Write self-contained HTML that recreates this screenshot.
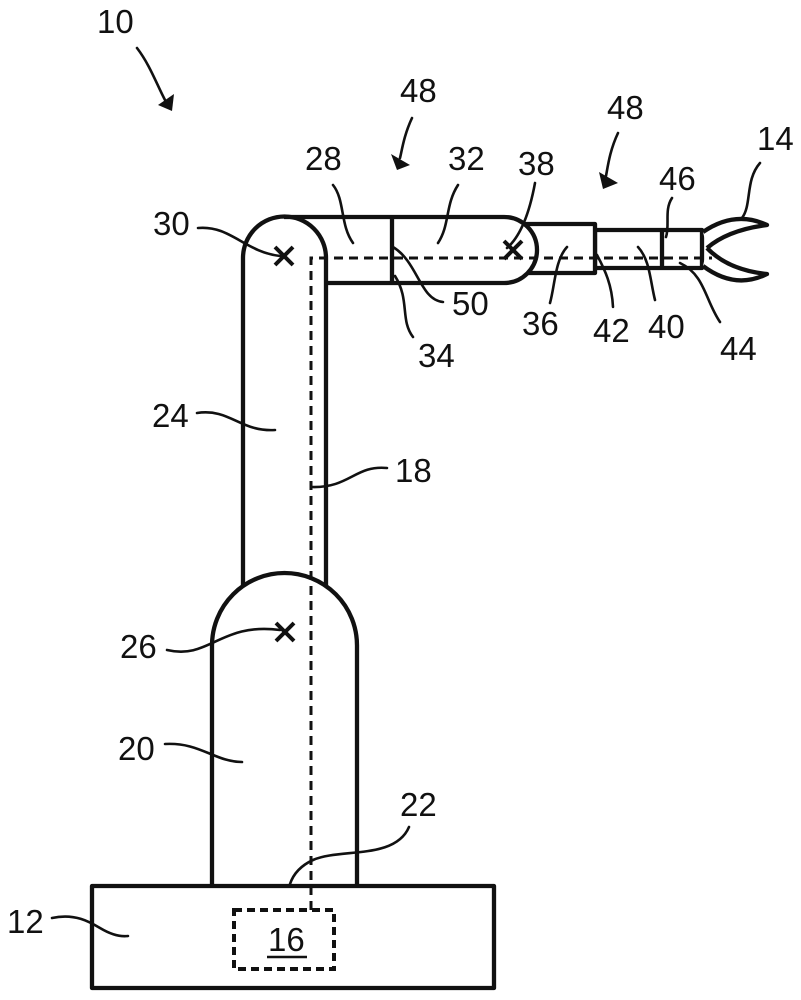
<!DOCTYPE html>
<html>
<head>
<meta charset="utf-8">
<style>
  html, body { margin:0; padding:0; background:#fff; }
  svg { display:block; }
  text { font-family: "Liberation Sans", Arial, sans-serif; font-size:33px; fill:#111; }
</style>
</head>
<body>
<svg width="801" height="1000" viewBox="0 0 801 1000" xmlns="http://www.w3.org/2000/svg">
  <g fill="#fff" stroke="#111" stroke-width="4.3" stroke-linejoin="round">
    <!-- link 40 -->
    <rect x="595" y="230" width="107" height="38"/>
    <line x1="662" y1="230" x2="662" y2="268"/>
    <!-- link 36 -->
    <rect x="515" y="224" width="80" height="49"/>
    <!-- horizontal arm 28/32 -->
    <path d="M284,217 L504,217 A33,33 0 0 1 504,283 L326,283"/>
    <line x1="392" y1="217" x2="392" y2="283"/>
    <!-- vertical arm 24 -->
    <path d="M243,600 L243,258 A41.5,41.5 0 0 1 326,258 L326,600" fill="none"/>
    <!-- lower column 20 -->
    <path d="M212,886 L212,645.5 A72.5,72.5 0 0 1 357,645.5 L357,886"/>
    <!-- base 12 -->
    <rect x="92" y="886" width="402" height="102"/>
    <!-- gripper 14 -->
    <path d="M703,232 Q735,210 767,225 Q728,230 707,248" fill="#fff"/>
    <path d="M707,248 Q728,270 767,274 Q735,290 703,266" fill="#fff"/>
  </g>

  <!-- dashed line 18 -->
  <path d="M311,910 L311,258 L712,258" fill="none" stroke="#111" stroke-width="3" stroke-dasharray="9,6"/>
  <!-- box 16 -->
  <rect x="234" y="910" width="100" height="59" fill="none" stroke="#111" stroke-width="4" stroke-dasharray="8,5"/>

  <!-- crosses -->
  <g stroke="#111" stroke-width="4" stroke-linecap="butt">
    <line x1="275" y1="247" x2="293" y2="265"/><line x1="293" y1="247" x2="275" y2="265"/>
    <line x1="504" y1="241" x2="522" y2="259"/><line x1="522" y1="241" x2="504" y2="259"/>
    <line x1="276" y1="623" x2="294" y2="641"/><line x1="294" y1="623" x2="276" y2="641"/>
  </g>

  <!-- leaders -->
  <g fill="none" stroke="#111" stroke-width="2.6" stroke-linecap="round">
    <path d="M137,48 C150,65 157,85 165,100"/>
    <path d="M412,118 C404,135 402,150 400,158"/>
    <path d="M618,133 C610,150 608,165 606,176"/>
    <path d="M198,228 C230,225 245,252 280,256"/>
    <path d="M333,185 C345,200 340,225 353,243"/>
    <path d="M458,185 C445,205 450,225 438,243"/>
    <path d="M535,183 C530,210 522,235 507,248"/>
    <path d="M443,302 C420,300 418,262 393,247"/>
    <path d="M413,337 C400,320 410,300 395,276"/>
    <path d="M550,303 C555,285 555,260 567,247"/>
    <path d="M613,307 C612,285 605,270 597,255"/>
    <path d="M655,300 C650,280 650,260 638,247"/>
    <path d="M720,322 C705,300 705,275 680,263"/>
    <path d="M672,198 C664,210 670,225 666,237"/>
    <path d="M760,163 C745,180 752,205 742,218"/>
    <path d="M197,413 C230,408 240,432 275,430"/>
    <path d="M387,468 C355,465 350,488 312,487"/>
    <path d="M167,650 C210,660 220,622 280,630"/>
    <path d="M165,744 C200,742 215,762 242,762"/>
    <path d="M409,827 C395,860 340,848 313,860 C300,866 293,875 290,884"/>
    <path d="M52,918 C75,913 90,922 100,928 C110,934 120,937 128,936"/>
  </g>
  <!-- arrowheads -->
  <g fill="#111">
    <polygon points="172,111 158,105 174,94"/>
    <polygon points="397,170 391,154 410,165"/>
    <polygon points="603,189 599,172 618,183"/>
  </g>

  <!-- labels -->
  <text x="97" y="33">10</text>
  <text x="153" y="235">30</text>
  <text x="305" y="170">28</text>
  <text x="448" y="170">32</text>
  <text x="518" y="175">38</text>
  <text x="400" y="102">48</text>
  <text x="607" y="119">48</text>
  <text x="757" y="150">14</text>
  <text x="659" y="190">46</text>
  <text x="452" y="315">50</text>
  <text x="522" y="335">36</text>
  <text x="593" y="342">42</text>
  <text x="648" y="338">40</text>
  <text x="720" y="360">44</text>
  <text x="418" y="367">34</text>
  <text x="152" y="427">24</text>
  <text x="395" y="482">18</text>
  <text x="120" y="658">26</text>
  <text x="118" y="760">20</text>
  <text x="400" y="816">22</text>
  <text x="7" y="933">12</text>
  <text x="268" y="951">16</text>
  <line x1="267" y1="957" x2="307" y2="957" stroke="#111" stroke-width="2.5"/>
</svg>
</body>
</html>
